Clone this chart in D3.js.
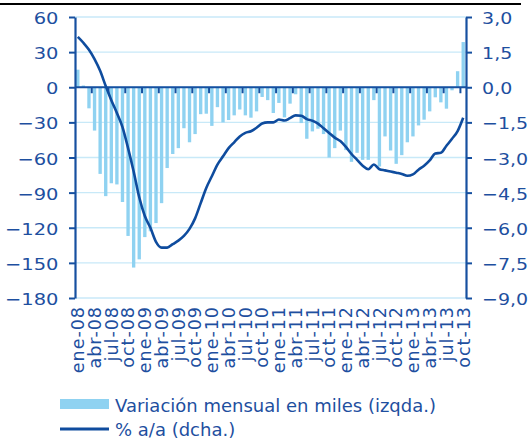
<!DOCTYPE html>
<html>
<head>
<meta charset="utf-8">
<script src="https://cdn.jsdelivr.net/npm/d3@7/dist/d3.min.js"></script>
<style>
  body { margin: 0; background: #fff; }
  text { font-family: "DejaVu Sans", Verdana, sans-serif; fill: #1e4f9f; }
</style>
</head>
<body>
<div id="chart"></div>
<script>
// months, ene-08 .. oct-13
var months = [
  'ene-08','feb-08','mar-08','abr-08','may-08','jun-08','jul-08','ago-08','sep-08','oct-08','nov-08','dic-08',
  'ene-09','feb-09','mar-09','abr-09','may-09','jun-09','jul-09','ago-09','sep-09','oct-09','nov-09','dic-09',
  'ene-10','feb-10','mar-10','abr-10','may-10','jun-10','jul-10','ago-10','sep-10','oct-10','nov-10','dic-10',
  'ene-11','feb-11','mar-11','abr-11','may-11','jun-11','jul-11','ago-11','sep-11','oct-11','nov-11','dic-11',
  'ene-12','feb-12','mar-12','abr-12','may-12','jun-12','jul-12','ago-12','sep-12','oct-12','nov-12','dic-12',
  'ene-13','feb-13','mar-13','abr-13','may-13','jun-13','jul-13','ago-13','sep-13','oct-13'
];

// variacion mensual en miles (izqda.)
var monthly = [
  15, 1.5, -18, -37, -74, -93, -82, -83, -98, -127, -154, -147,
  -128, -123, -116, -99, -69, -57, -52, -35, -47, -40, -23, -22.6,
  -33, -17, -30, -28, -24, -19, -24, -26, -20.6, -8.3, -11, -22,
  -13.4, -25.7, -14, -6, -30.6, -44, -37.7, -35.4, -40, -60, -52, -37,
  -53.7, -63.7, -56, -62, -62, -11, -67.7, -42, -54, -65.4, -58, -47,
  -42, -32.6, -27.7, -20.6, -8.6, -12.9, -18.3, -2.6, 13.7, 38.6
];

// % a/a (dcha.)
var yoy = [
  2.15, 1.9, 1.6, 1.2, 0.7, 0.05, -0.55, -1.1, -1.7, -2.6, -3.6, -4.7,
  -5.5, -6.0, -6.6, -6.85, -6.85, -6.7, -6.55, -6.35, -6.05, -5.6, -4.95, -4.3,
  -3.8, -3.3, -2.95, -2.6, -2.35, -2.1, -1.95, -1.88, -1.73, -1.55, -1.5, -1.5,
  -1.38, -1.42, -1.32, -1.2, -1.22, -1.36, -1.43, -1.55, -1.75, -1.95, -2.15, -2.3,
  -2.55, -2.85, -3.1, -3.35, -3.5, -3.3, -3.5, -3.55, -3.6, -3.65, -3.7, -3.78,
  -3.72, -3.52, -3.35, -3.12, -2.83, -2.8, -2.5, -2.2, -1.87, -1.3
];

var leftTicks = [60, 30, 0, -30, -60, -90, -120, -150, -180];
var rightTicks = [3, 1.5, 0, -1.5, -3, -4.5, -6, -7.5, -9];

var seriesNames = ['Variación mensual en miles (izqda.)', '% a/a (dcha.)'];

(function (d3) {
  'use strict';

  var width = 531, height = 439;
  var plotLeft = 75, plotRight = 466, plotTop = 17, plotBottom = 298;

  var barColor = '#8fd2f1';
  var lineColor = '#0f4c9e';
  var axisColor = '#1650a0';
  var gridColor = '#c8e9f8';

  var es = d3.formatLocale({decimal: ',', thousands: '.', grouping: [3], currency: ['', '€']});
  var fmtR = es.format('.1f');

  var svg = d3.select('#chart')
    .append('svg')
    .attr('width', width)
    .attr('height', height);

  var x = d3.scaleBand()
    .domain(months)
    .range([plotLeft, plotRight])
    .paddingInner(0.4)
    .paddingOuter(0.2);

  var yL = d3.scaleLinear().domain([-180, 60]).range([plotBottom, plotTop]);
  var yR = d3.scaleLinear().domain([-9, 3]).range([plotBottom, plotTop]);

  // black rule on top
  svg.append('line')
    .attr('x1', 0).attr('x2', 521)
    .attr('y1', 4).attr('y2', 4)
    .attr('stroke', '#000')
    .attr('stroke-width', 2);

  // gridlines
  svg.append('g')
    .selectAll('line')
    .data(leftTicks)
    .enter()
    .append('line')
    .attr('x1', plotLeft).attr('x2', plotRight)
    .attr('y1', function(d){ return yL(d); })
    .attr('y2', function(d){ return yL(d); })
    .attr('stroke', gridColor)
    .attr('stroke-width', 1.3);

  // bars
  svg.append('g')
    .selectAll('rect')
    .data(monthly)
    .enter()
    .append('rect')
    .attr('x', function(d, i){ return x(months[i]); })
    .attr('width', x.bandwidth())
    .attr('y', function(d){ return yL(Math.max(0, d)); })
    .attr('height', function(d){ return Math.abs(yL(d) - yL(0)); })
    .attr('fill', barColor);

  // category axis sitting on zero
  var step = x.step();
  var catTicks = months.filter(function(d, i){ return i % 3 === 0 && i > 0; });
  svg.append('line')
    .attr('x1', plotLeft).attr('x2', plotRight)
    .attr('y1', yL(0)).attr('y2', yL(0))
    .attr('stroke', axisColor)
    .attr('stroke-width', 2.2);

  svg.append('g')
    .selectAll('line')
    .data(catTicks)
    .enter()
    .append('line')
    .attr('x1', function(d){ return x(d) - step * x.paddingOuter(); })
    .attr('x2', function(d){ return x(d) - step * x.paddingOuter(); })
    .attr('y1', yL(0))
    .attr('y2', yL(0) + 6)
    .attr('stroke', axisColor)
    .attr('stroke-width', 2);

  // line
  var line = d3.line()
    .x(function(d, i){ return x(months[i]) + x.bandwidth() / 2; })
    .y(function(d){ return yR(d); })
    .curve(d3.curveMonotoneX);

  svg.append('path')
    .datum(yoy)
    .attr('d', line)
    .attr('fill', 'none')
    .attr('stroke', lineColor)
    .attr('stroke-width', 2.6);

  // left axis
  var gL = svg.append('g')
    .attr('transform', 'translate(' + plotLeft + ',0)')
    .call(d3.axisLeft(yL).tickValues(leftTicks).tickSize(6).tickSizeOuter(0).tickFormat(d3.format('d')));

  // right axis
  var gR = svg.append('g')
    .attr('transform', 'translate(' + plotRight + ',0)')
    .call(d3.axisRight(yR).tickValues(rightTicks).tickSize(6).tickSizeOuter(0).tickFormat(fmtR));

  [gL, gR].forEach(function(g){
    g.select('.domain').attr('stroke', axisColor).attr('stroke-width', 2.2);
    g.selectAll('.tick line').attr('stroke', axisColor).attr('stroke-width', 2);
    g.selectAll('text').attr('font-size', 16.5).attr('fill', '#1e4f9f');
  });
  // the tick labels of the reference are drawn slightly wide
  gL.selectAll('text').attr('x', -14).attr('dy', '0.4em').attr('transform', 'scale(1.18,1)');
  gR.selectAll('text').attr('x', 14).attr('dy', '0.4em').attr('transform', 'scale(1.15,1)');

  // month labels, every 3rd
  svg.append('g')
    .selectAll('text')
    .data(months.filter(function(d, i){ return i % 3 === 0; }))
    .enter()
    .append('text')
    .attr('transform', function(d){
      return 'translate(' + (x(d) + x.bandwidth() / 2) + ',' + 306 + ') rotate(-90)';
    })
    .attr('dy', '0.36em')
    .attr('text-anchor', 'end')
    .attr('font-size', 17.5)
    .style('letter-spacing', '1px')
    .text(function(d){ return d; });

  // legend
  var legend = svg.append('g');
  legend.append('rect')
    .attr('x', 60).attr('y', 399)
    .attr('width', 49).attr('height', 10)
    .attr('fill', barColor);
  legend.append('line')
    .attr('x1', 60).attr('x2', 109)
    .attr('y1', 429).attr('y2', 429)
    .attr('stroke', lineColor)
    .attr('stroke-width', 3);
  legend.selectAll('text')
    .data(seriesNames)
    .enter()
    .append('text')
    .attr('x', 115)
    .attr('y', function(d, i){ return 412 + i * 23.5; })
    .attr('font-size', 18)
    .text(function(d){ return d; });
})(window.d3);
</script>
</body>
</html>
